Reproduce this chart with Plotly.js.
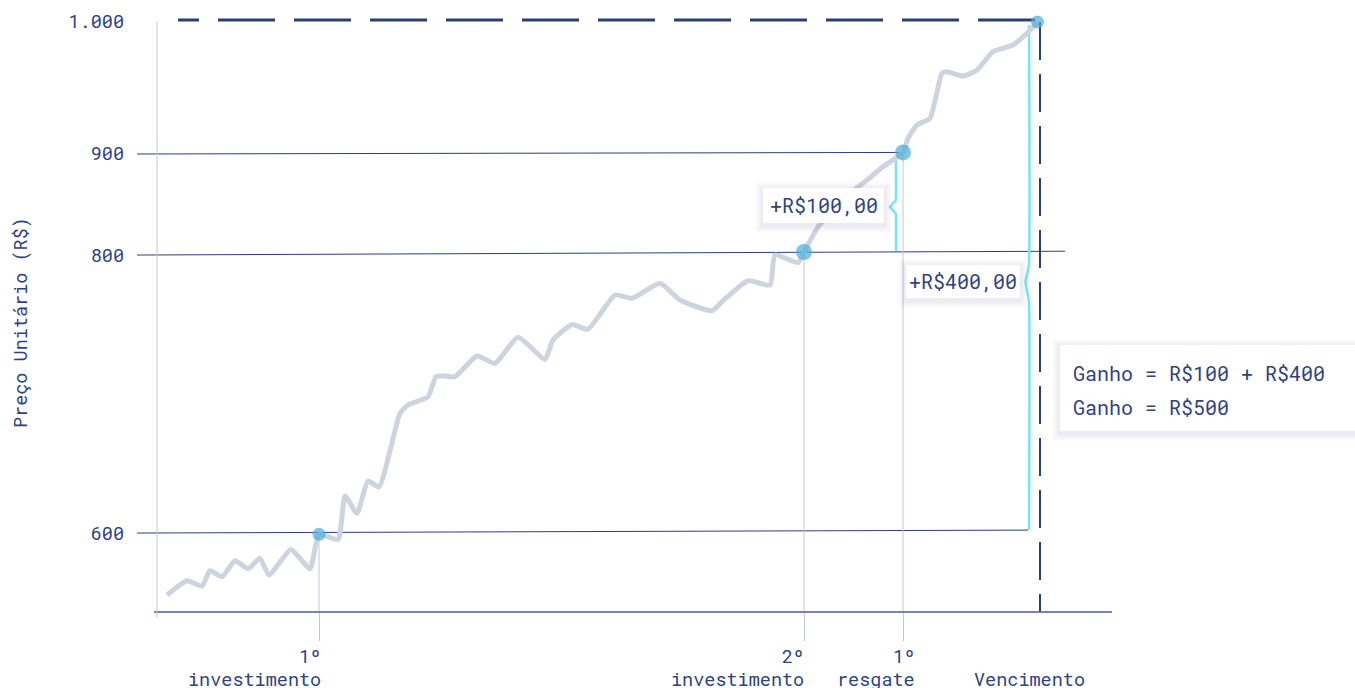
<!DOCTYPE html>
<html><head><meta charset="utf-8">
<script src="https://cdn.plot.ly/plotly-3.0.1.min.js"></script>
<style>html,body{margin:0;padding:0;background:#fff;}#chart{width:1355px;height:688px;}</style>
</head><body><div id="chart"></div>
<script>
// ---- DATA ----
// time (schematic units) and unit price (schematic scale: 600 and 1.000 anchored)
const pathX = [1.0, 3.0, 4.5, 5.3, 6.5, 7.8, 9.1, 10.3, 11.2, 13.4, 15.3, 16.2, 18.1, 18.8, 20.0, 21.1, 22.2, 24.3, 25.1, 27.1, 27.9, 28.6, 29.8, 32.0, 33.8, 36.1, 38.8, 39.6, 41.5, 43.1, 45.8, 47.5, 50.3, 52.3, 55.5, 56.5, 59.1, 61.3, 61.8, 64.1, 64.7, 66.0, 68.3, 71.0, 72.6, 74.6, 75.1, 76.0, 77.3, 78.5, 79.0, 80.6, 82.0, 83.6, 85.6, 87.0, 88.05];
const pathY = [551.5, 562.7, 558.5, 570.5, 565.8, 578.3, 572.1, 580.2, 567.1, 587.2, 572.1, 599.0, 595.1, 629.0, 615.4, 640.7, 636.2, 693.7, 700.2, 706.7, 722.4, 723.1, 722.4, 738.6, 732.8, 753.2, 736.0, 751.1, 763.1, 759.5, 786.3, 783.7, 795.5, 782.4, 774.0, 781.1, 797.5, 794.1, 817.6, 811.6, 820.0, 838.5, 859.3, 876.3, 886.7, 897.9, 909.0, 919.4, 924.6, 959.9, 961.1, 957.7, 962.4, 976.8, 982.0, 991.2, 1000.0];

const eventX = [16.2, 64.7, 74.6, 88.05];
const eventY = [599.0, 820.0, 897.9, 1000.0];
const eventLabelTop = ['1º', '2º', '1º', ''];
const eventLabelBottom = ['investimento', 'investimento', 'resgate', 'Vencimento'];

const yTickVals = [600, 817.6, 896.7, 1000];
const yTickText = ['600', '800', '900', '1.000'];

const gainLabels = ['+R$100,00', '+R$400,00'];
const summaryLines = ['Ganho = R$100 + R$400', 'Ganho = R$500'];
const yTitle = 'Preço Unitário (R$)';

// ---- STYLE / LAYOUT CONSTANTS ----
const NAVY = '#2c3d7a';
const TXT = '#2f4281';
const GRAY = '#cdd3df';
const THIN = '#c3c8d8';
const CYAN = '#74e5f3';
const DOT = '#4faed6';
const FONT = 'Roboto Mono, DejaVu Sans Mono, monospace';
const X0 = -2, X1 = 95.5, Y0 = 538.2, Y1 = 1009.4;

const traces = [];
// reference lines from the price axis to the points
traces.push({x: [X0, eventX[2]], y: [yTickVals[2], eventY[2]], mode: 'lines', line: {color: NAVY, width: 1}, hoverinfo: 'skip'});
traces.push({x: [X0, eventX[1], 90.8], y: [yTickVals[1], eventY[1], 820.6], mode: 'lines', line: {color: NAVY, width: 1}, hoverinfo: 'skip'});
traces.push({x: [X0, 87.1], y: [yTickVals[0], 602.3], mode: 'lines', line: {color: NAVY, width: 1}, hoverinfo: 'skip'});
// drop lines
for (let i = 0; i < 3; i++) {
  traces.push({x: [eventX[i], eventX[i]], y: [eventY[i], Y0], mode: 'lines', line: {color: THIN, width: 1}, hoverinfo: 'skip'});
}
// cyan braces
traces.push({x: [73.9, 73.9, 73.3, 73.9, 73.9], y: [893.5, 860.7, 855.2, 849.7, 820.7], mode: 'lines', line: {color: CYAN, width: 2.5}, hoverinfo: 'skip'});
traces.push({x: [87.2, 87.2, 86.85, 87.2, 87.2], y: [997.7, 810.0, 796.5, 781.0, 602.3], mode: 'lines', line: {color: CYAN, width: 2.5, shape: 'spline', smoothing: 0.3}, hoverinfo: 'skip'});
// dashed maturity lines
traces.push({x: [87.8, 2.1], y: [1001.6, 1001.6], mode: 'lines', line: {color: NAVY, width: 3, dash: '57px,19px'}, hoverinfo: 'skip'});
traces.push({x: [88.3, 88.3], y: [1000, Y0], mode: 'lines', line: {color: NAVY, width: 2, dash: '38px,14px'}, hoverinfo: 'skip'});
// price path
traces.push({x: pathX, y: pathY, mode: 'lines', line: {color: GRAY, width: 5, shape: 'spline', smoothing: 0.5}, hoverinfo: 'skip'});
// event markers
traces.push({x: eventX, y: eventY, mode: 'markers', marker: {color: DOT, size: [13, 16, 16, 13], line: {width: 0}}, cliponaxis: false, hoverinfo: 'skip'});

const shapes = [];
// x axis line
shapes.push({type: 'line', xref: 'x', yref: 'paper', x0: -0.3, x1: X1, y0: 0, y1: 0, line: {color: '#4d5d96', width: 1.5}});
// y axis gray line
shapes.push({type: 'line', xref: 'x', yref: 'paper', x0: 0, x1: 0, y0: -0.009, y1: 0.98, line: {color: THIN, width: 1}});

function shadowBox(x0, x1, y0, y1, xref, yref, dx, dy) {
  for (let k = 5; k >= 1; k--) {
    shapes.push({type: 'rect', xref: xref, yref: yref, x0: x0 - k * 1.5 * dx, x1: x1 + k * 1.5 * dx, y0: y0 - (k * 1.5 + 2) * dy, y1: y1 + (k * 1.5 - 2) * dy,
      fillcolor: 'rgba(30,40,80,0.018)', line: {width: 0}, layer: 'above'});
  }
  shapes.push({type: 'rect', xref: xref, yref: yref, x0: x0, x1: x1, y0: y0, y1: y1, fillcolor: '#ffffff', line: {width: 0}, layer: 'above'});
}
shadowBox(60.6, 72.7, 842.7, 870.1, 'x', 'y', 0.1, 0.7828);
shadowBox(74.9, 86.3, 784.0, 809.8, 'x', 'y', 0.1, 0.7828);
shadowBox(0.9466, 1.3, 0.3007, 0.4435, 'paper', 'paper', 1 / 975, 1 / 602);

const annotations = [];
// y title
annotations.push({text: yTitle, xref: 'paper', yref: 'paper', x: -0.12, y: 0.48, textangle: -90, showarrow: false, font: {family: FONT, size: 18.5, color: TXT}, xanchor: 'center', yanchor: 'middle'});
// event labels
const labelRightX = [16.6, 64.9, 76.0, 93.0];
for (let i = 0; i < eventX.length; i++) {
  if (eventLabelTop[i]) annotations.push({text: eventLabelTop[i], xref: 'x', yref: 'paper', x: labelRightX[i], y: -0.0731, xanchor: 'right', yanchor: 'middle', showarrow: false, font: {family: FONT, size: 18.5, color: TXT}});
  annotations.push({text: eventLabelBottom[i], xref: 'x', yref: 'paper', x: labelRightX[i], y: -0.1105, xanchor: 'right', yanchor: 'middle', showarrow: false, font: {family: FONT, size: 18.5, color: TXT}});
}
// gain labels
annotations.push({text: gainLabels[0], xref: 'x', yref: 'y', x: 66.65, y: 856.4, showarrow: false, font: {family: FONT, size: 20, color: TXT}, xanchor: 'center', yanchor: 'middle'});
annotations.push({text: gainLabels[1], xref: 'x', yref: 'y', x: 80.6, y: 796.9, showarrow: false, font: {family: FONT, size: 20, color: TXT}, xanchor: 'center', yanchor: 'middle'});
// summary
annotations.push({text: summaryLines[0], xref: 'paper', yref: 'paper', x: 0.9575, y: 0.397, xanchor: 'left', yanchor: 'middle', showarrow: false, font: {family: FONT, size: 20, color: TXT}});
annotations.push({text: summaryLines[1], xref: 'paper', yref: 'paper', x: 0.9575, y: 0.3405, xanchor: 'left', yanchor: 'middle', showarrow: false, font: {family: FONT, size: 20, color: TXT}});

const layout = {
  width: 1355, height: 688,
  margin: {l: 137, r: 243, t: 10, b: 76},
  paper_bgcolor: '#ffffff', plot_bgcolor: '#ffffff',
  showlegend: false,
  xaxis: {range: [X0, X1], showgrid: false, zeroline: false, showline: false,
    tickmode: 'array', tickvals: eventX.slice(0, 3), ticks: 'outside', ticklen: 28, tickcolor: THIN, tickwidth: 1, showticklabels: false, fixedrange: true},
  yaxis: {range: [Y0, Y1], showgrid: false, zeroline: false, showline: false,
    tickmode: 'array', tickvals: yTickVals, ticktext: yTickText, ticks: '', ticklabelstandoff: 12,
    tickfont: {family: FONT, size: 18.5, color: TXT}, fixedrange: true},
  shapes: shapes,
  annotations: annotations,
  font: {family: FONT, color: TXT}
};
Plotly.newPlot('chart', traces, layout, {displayModeBar: false, staticPlot: true});
</script>
</body></html>
